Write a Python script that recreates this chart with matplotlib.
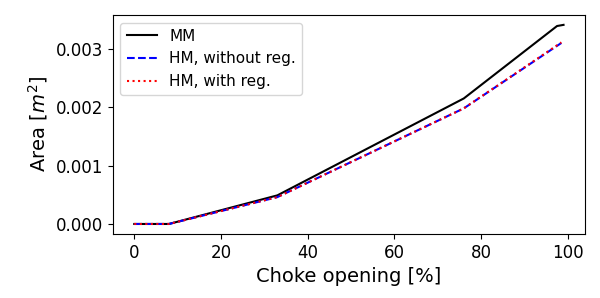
import matplotlib
matplotlib.use("Agg")
import matplotlib.pyplot as plt

# choke opening [%] and area [m^2]
mm_x = [0, 8, 33, 76, 97.5, 99]
mm_y = [0.0, 0.0, 0.00049, 0.00215, 0.00339, 0.00341]

hm_x = [0, 8, 33, 76, 98.5]
hm_noreg = [0.0, 0.0, 0.00046, 0.00198, 0.00310]
hm_reg = [0.0, 0.0, 0.00046, 0.00198, 0.00311]

fig = plt.figure(figsize=(6, 2.98), dpi=100)
ax = fig.add_axes([0.188, 0.215, 0.787, 0.735])
ax.plot(mm_x, mm_y, 'k-', label='MM')
ax.plot(hm_x, hm_noreg, 'b--', label='HM, without reg.')
ax.plot(hm_x, hm_reg, 'r:', label='HM, with reg.')
ax.set_xlabel('Choke opening [%]', fontsize=14)
ax.set_ylabel('Area [$m^2$]', fontsize=14)
ax.tick_params(labelsize=12)
ax.set_yticks([0, 0.001, 0.002, 0.003])
ax.legend(loc='upper left', fontsize=11)
fig.savefig('out.png')
